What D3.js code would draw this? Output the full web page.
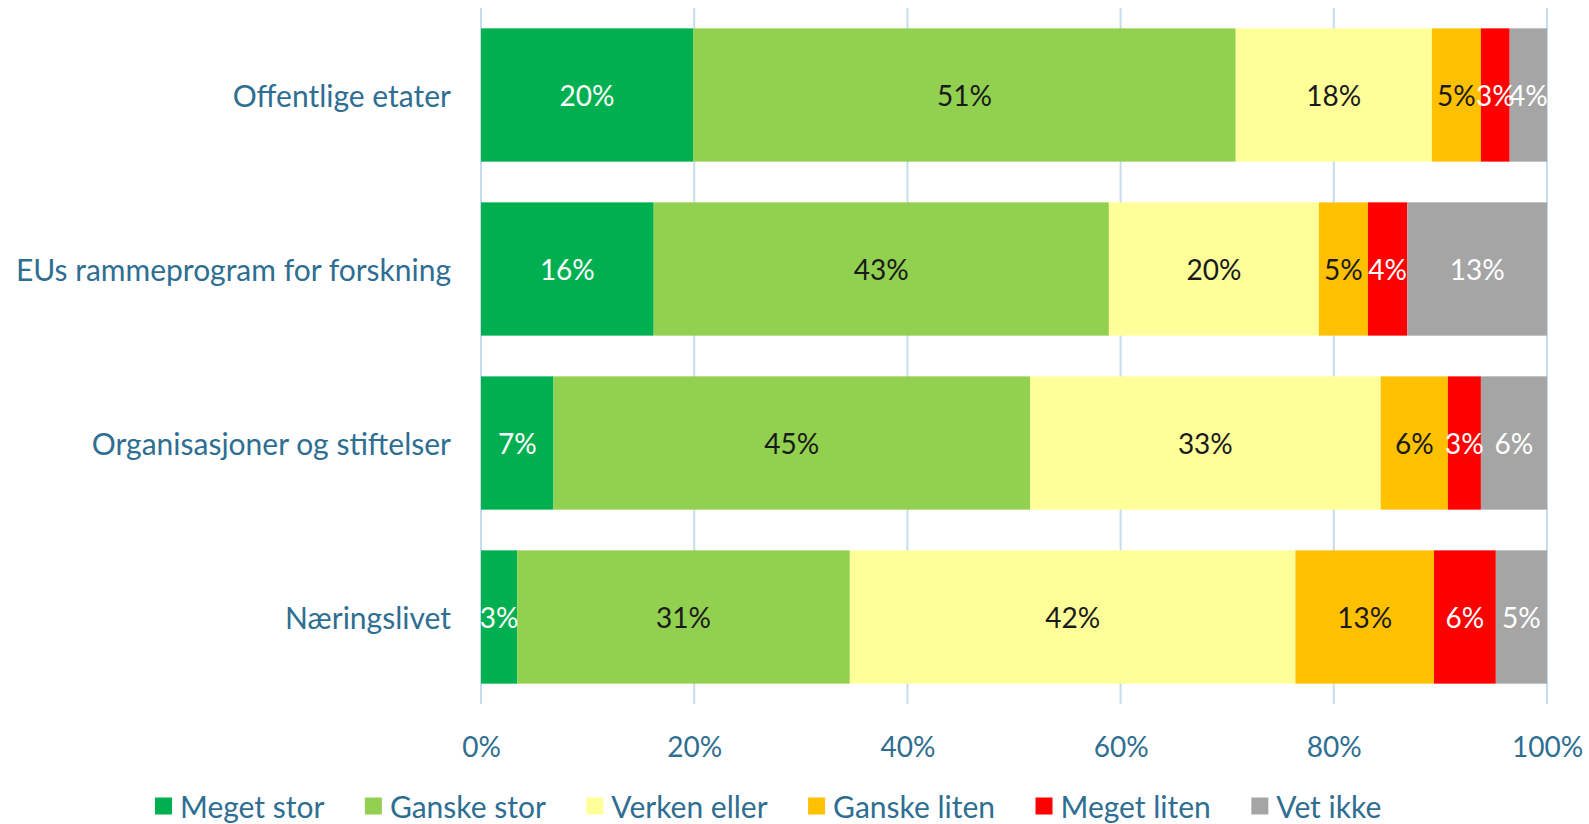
<!DOCTYPE html>
<html>
<head>
<meta charset="utf-8">
<script src="https://cdn.jsdelivr.net/npm/d3@7/dist/d3.min.js"></script>
<style>
  body { margin: 0; background: #fff; }
  text { font-family: Lato, "Open Sans", sans-serif; }
</style>
</head>
<body>
<svg id="chart" width="1589" height="824"></svg>
<script>
// data (percent)
var categories = ["Offentlige etater", "EUs rammeprogram for forskning", "Organisasjoner og stiftelser", "Næringslivet"];
var seriesNames = ["Meget stor", "Ganske stor", "Verken eller", "Ganske liten", "Meget liten", "Vet ikke"];
var megetStor   = [19.9, 16.2, 6.8, 3.4];
var ganskeStor  = [50.9, 42.7, 44.7, 31.2];
var verkenEller = [18.4, 19.7, 32.9, 41.8];
var ganskeLiten = [4.6, 4.6, 6.3, 13.0];
var megetLiten  = [2.7, 3.7, 3.1, 5.8];
var vetIkke     = [3.5, 13.1, 6.2, 4.8];
var tickValues = [0, 20, 40, 60, 80, 100];

var colors = ["#00B050", "#92D050", "#FFFF99", "#FFC000", "#FF0000", "#A5A5A5"];
var labelColors = ["#fff", "#1a1a1a", "#1a1a1a", "#1a1a1a", "#fff", "#fff"];
var textBlue = "#2E6E92";

var allSeries = [megetStor, ganskeStor, verkenEller, ganskeLiten, megetLiten, vetIkke];

var rows = categories.map(function(c, i) {
  var o = {cat: c};
  seriesNames.forEach(function(s, j) { o[s] = allSeries[j][i]; });
  return o;
});

var svg = d3.select("#chart");

var x = d3.scaleLinear().domain([0, 100]).range([481, 1547]);
var y = d3.scaleBand().domain(categories).range([8, 704]).paddingInner(0.234).paddingOuter(0.117);

// gridlines
svg.append("g").selectAll("line")
  .data(tickValues).enter().append("line")
  .attr("x1", function(d) { return x(d); })
  .attr("x2", function(d) { return x(d); })
  .attr("y1", 8).attr("y2", 704)
  .attr("stroke", "#C5DCEC").attr("stroke-width", 2);

var stack = d3.stack().keys(seriesNames)(rows);

var layer = svg.append("g").selectAll("g")
  .data(stack).enter().append("g")
  .attr("fill", function(d, i) { return colors[i]; });

layer.selectAll("rect")
  .data(function(d) { return d; }).enter().append("rect")
  .attr("x", function(d) { return x(d[0]); })
  .attr("width", function(d) { return x(d[1]) - x(d[0]); })
  .attr("y", function(d) { return y(d.data.cat); })
  .attr("height", y.bandwidth());

// value labels
stack.forEach(function(s, i) {
  svg.append("g").selectAll("text")
    .data(s).enter().append("text")
    .attr("x", function(d) { return (x(d[0]) + x(d[1])) / 2; })
    .attr("y", function(d) { return y(d.data.cat) + y.bandwidth() / 2; })
    .attr("text-anchor", "middle")
    .attr("dominant-baseline", "central")
    .attr("font-size", 28)
    .attr("fill", labelColors[i])
    .text(function(d) { return Math.round(d[1] - d[0]) + "%"; });
});

// category labels
svg.append("g").selectAll("text")
  .data(categories).enter().append("text")
  .attr("x", 451)
  .attr("y", function(d) { return y(d) + y.bandwidth() / 2; })
  .attr("text-anchor", "end")
  .attr("dominant-baseline", "central")
  .attr("font-size", 30)
  .attr("fill", textBlue)
  .text(function(d) { return d; });

// x axis
var xAxis = svg.append("g")
  .attr("transform", "translate(0,704)")
  .call(d3.axisBottom(x).tickValues(tickValues).tickSize(0).tickPadding(33).tickFormat(function(d) { return d + "%"; }));
xAxis.select(".domain").remove();
xAxis.selectAll("text")
  .attr("font-family", "Lato, sans-serif")
  .attr("font-size", 28)
  .attr("fill", textBlue);

// legend
var legend = svg.append("g").attr("transform", "translate(155,806)");
var lx = 0;
seriesNames.forEach(function(s, i) {
  var g = legend.append("g").attr("transform", "translate(" + lx + ",0)");
  g.append("rect").attr("x", 0).attr("y", -8.5).attr("width", 17).attr("height", 17).attr("fill", colors[i]);
  var t = g.append("text").attr("x", 25).attr("y", 0)
    .attr("dominant-baseline", "central")
    .attr("font-size", 30).attr("fill", textBlue).text(s);
  lx += 25 + t.node().getComputedTextLength() + 40.5;
});
</script>
</body>
</html>
